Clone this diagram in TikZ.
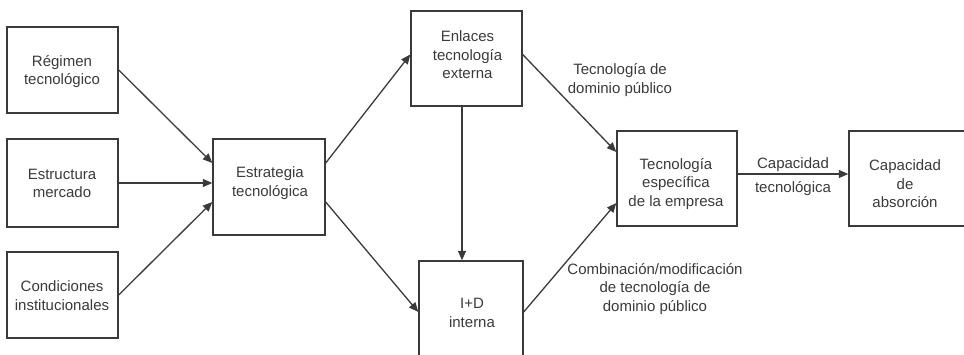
\documentclass[tikz,border=0pt]{standalone}
\usepackage{fontspec}
\setmainfont{Liberation Sans}
\usetikzlibrary{arrows.meta,calc}
\definecolor{ink}{HTML}{3A3A3A}
\begin{document}
\begin{tikzpicture}[x=1pt,y=-1pt,
  box/.style={draw=ink, line width=1.4pt, minimum width=#1, inner sep=0pt},
  box/.default=111pt,
  lbl/.style={align=center, font=\fontsize{15}{18.5}\selectfont, text=ink, inner sep=0pt},
  arr/.style={draw=ink, line width=1.3pt, -{Triangle[length=9.5pt,width=8pt]}}]
  \useasboundingbox (0,0) rectangle (964,355);
  \clip (0,0) rectangle (964,355);

  % input factors
  \node[box, minimum height=86pt] (reg)  at (62.5,70)  {};
  \node[box, minimum height=88pt] (mer)  at (62.5,183) {};
  \node[box, minimum height=86pt] (inst) at (62.5,295) {};
  \node[lbl] (reg-t)  at (62,71.5)   {Régimen\\tecnológico};
  \node[lbl] (mer-t)  at (62,183.5)  {Estructura\\mercado};
  \node[lbl] (inst-t) at (62,295.5)  {Condiciones\\institucionales};

  % strategy and its two channels
  \node[box=112pt, minimum height=96pt]  (estr) at (269,187)    {};
  \node[box, minimum height=95pt]        (enl)  at (466.5,58.5) {};
  \node[box=104pt, minimum height=100pt] (id)   at (471,311)    {};
  \node[lbl] (estr-t) at (270,183)   {Estrategia\\tecnológica};
  \node[lbl] (enl-t)  at (467.5,55)  {Enlaces\\tecnología\\externa};
  \node[lbl] (id-t)   at (472,313)   {I+D\\interna};

  % outcomes
  \node[box=120pt, minimum height=95pt] (tec) at (677,178.5) {};
  \node[box=118pt, minimum height=95pt] (cap) at (908,178.5) {};
  \node[lbl] (tec-t) at (676,184) {Tecnología\\específica\\de la empresa};
  \node[lbl] (cap-t) at (905,184) {Capacidad\\de\\absorción};

  % connectors
  \draw[arr] (reg.east) -- ([yshift=24pt]estr.west);
  \draw[arr] (mer.east) -- ([yshift=4pt]estr.west);
  \draw[arr] (inst.east) -- ([yshift=-15pt]estr.west);
  \draw[arr] ([yshift=24pt]estr.east) -- ([yshift=4pt]enl.west);
  \draw[arr] ([yshift=-15pt]estr.east) -- ([yshift=-1pt]id.west);
  \draw[arr] ([xshift=-4.5pt]enl.south) -- ([xshift=-9pt]id.north);
  \draw[arr] ([yshift=4pt]enl.east) -- ([yshift=26.5pt]tec.west);
  \draw[arr] ([yshift=-1pt]id.east) -- ([yshift=-24.5pt]tec.west);
  \draw[arr] ([yshift=4.5pt]tec.east) -- node[lbl, above=2pt] (capa) {Capacidad}
                                         node[lbl, below=7pt] (tecn) {tecnológica} ([yshift=4.5pt]cap.west);

  % connector labels
  \node[lbl] (pub) at (620,80)  {Tecnología de\\dominio público};
  \node[lbl] (comb) at (655,289) {Combinación/modificación\\de tecnología de\\dominio público};
\end{tikzpicture}
\end{document}
